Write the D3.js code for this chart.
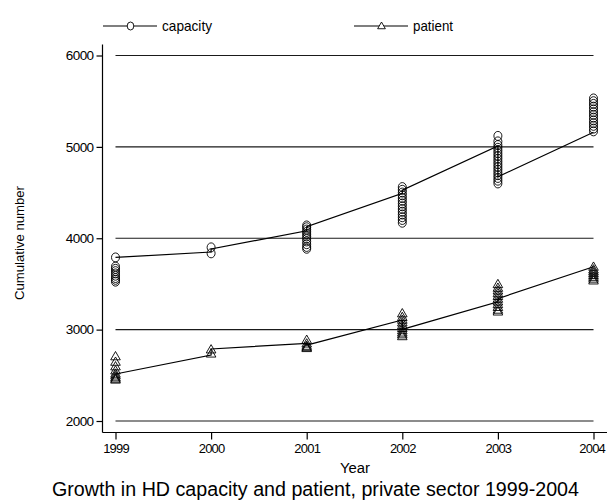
<!DOCTYPE html>
<html><head><meta charset="utf-8">
<script src="https://cdn.jsdelivr.net/npm/d3@7"></script>
<style>html,body{margin:0;padding:0;background:#fff;}svg{display:block;font-family:"Liberation Sans",Arial,sans-serif;}</style>
</head><body>
<svg id="c" width="607" height="502"></svg>
<script>
const years = [1999, 2000, 2001, 2002, 2003, 2004];
const yTicks = [2000, 3000, 4000, 5000, 6000];
const seriesNames = ["capacity", "patient"];
const capacityPoints = {
  1999: [3790, 3690, 3665, 3640, 3615, 3590, 3565, 3545, 3525],
  2000: [3900, 3835],
  2001: [4140, 4120, 4095, 4070, 4045, 4020, 3995, 3965, 3935, 3905, 3885],
  2002: [4560, 4530, 4500, 4470, 4440, 4410, 4380, 4350, 4320, 4290, 4260, 4230, 4200, 4170],
  2003: [5120, 5060, 5020, 4990, 4960, 4930, 4900, 4870, 4840, 4810, 4780, 4750, 4720, 4690, 4660, 4630, 4600],
  2004: [5530, 5500, 5470, 5440, 5410, 5380, 5350, 5320, 5290, 5260, 5230, 5200, 5170]
};
const patientPoints = {
  1999: [2700, 2640, 2590, 2545, 2510, 2490, 2470, 2455, 2445],
  2000: [2775, 2730],
  2001: [2880, 2840, 2815, 2800, 2790],
  2002: [3170, 3130, 3100, 3070, 3040, 3010, 2985, 2960, 2940, 2920],
  2003: [3490, 3450, 3420, 3390, 3360, 3330, 3300, 3270, 3240, 3210, 3190],
  2004: [3680, 3650, 3630, 3610, 3590, 3570, 3550, 3530]
};
const capacityLine = [[1999,3790],[2000,3849],[2000,3882],[2001,4082],[2001,4126],[2002,4491],[2002,4527],[2003,5010],[2003,4673],[2004,5160]];
const patientLine = [[1999,2514],[2000,2722],[2000,2788],[2001,2850],[2001,2830],[2002,3105],[2002,3003],[2003,3305],[2003,3340],[2004,3688]];

const svg = d3.select("#c");
const x = d3.scaleLinear().domain([1999, 2004]).range([115.5, 593.5]);
const y = d3.scaleLinear().domain([2000, 6000]).range([421, 55.5]);
const axX = 102.5, axY = 432.5;
const FONT = "Liberation Sans, Arial, sans-serif";

// gridlines
svg.append("g").selectAll("line").data(yTicks).join("line")
  .attr("x1", x(1999)).attr("x2", x(2004))
  .attr("y1", d => y(d)).attr("y2", d => y(d))
  .attr("stroke", "#1a1a1a").attr("stroke-width", 1.2);

// axis lines
svg.append("line").attr("x1", axX).attr("x2", axX).attr("y1", y(6120)).attr("y2", axY).attr("stroke", "#000").attr("stroke-width", 1.2);
svg.append("line").attr("x1", axX).attr("x2", 607).attr("y1", axY).attr("y2", axY).attr("stroke", "#000").attr("stroke-width", 1.2);

// y axis
const gy = svg.append("g").attr("transform", `translate(${axX},0)`)
  .call(d3.axisLeft(y).tickValues(yTicks).tickSize(6).tickPadding(3).tickFormat(d3.format("d")));
gy.select(".domain").remove();
gy.selectAll("line").attr("stroke-width", 1.2);
gy.selectAll("text").attr("font-size", 13.5).attr("fill", "#000").attr("font-family", FONT)
  .attr("letter-spacing", -0.6);

// x axis
const gx = svg.append("g").attr("transform", `translate(0,${axY})`)
  .call(d3.axisBottom(x).tickValues(years).tickSize(7).tickPadding(4).tickFormat(d3.format("d")));
gx.select(".domain").remove();
gx.selectAll("line").attr("stroke-width", 1.2);
gx.selectAll("text").attr("font-size", 13).attr("fill", "#000").attr("font-family", FONT)
  .attr("letter-spacing", -0.8);
gx.selectAll("text").filter(d => d === 2004).attr("text-anchor", "end").attr("x", 11);

// lines
const lineGen = d3.line().x(d => x(d[0])).y(d => y(d[1]));
svg.append("path").attr("d", lineGen(capacityLine)).attr("fill", "none").attr("stroke", "#000").attr("stroke-width", 1.2);
svg.append("path").attr("d", lineGen(patientLine)).attr("fill", "none").attr("stroke", "#000").attr("stroke-width", 1.2);

// markers
const flat = obj => years.flatMap(yr => obj[yr].map(v => [yr, v]));
svg.append("g").selectAll("ellipse").data(flat(capacityPoints)).join("ellipse")
  .attr("cx", d => x(d[0])).attr("cy", d => y(d[1])).attr("rx", 4).attr("ry", 4.5)
  .attr("fill", "none").attr("stroke", "#000").attr("stroke-width", 0.9);
const tri = d3.symbol().type(d3.symbolTriangle).size(40);
svg.append("g").selectAll("path").data(flat(patientPoints)).join("path")
  .attr("d", tri).attr("transform", d => `translate(${x(d[0])},${y(d[1])})`)
  .attr("fill", "none").attr("stroke", "#000").attr("stroke-width", 0.9);

// legend
const leg = svg.append("g");
leg.append("line").attr("x1", 103).attr("x2", 157).attr("y1", 26).attr("y2", 26).attr("stroke", "#000").attr("stroke-width", 1.2);
leg.append("ellipse").attr("cx", 130.5).attr("cy", 26).attr("rx", 3.3).attr("ry", 4).attr("fill", "#fff").attr("stroke", "#000").attr("stroke-width", 0.9);
leg.append("text").attr("x", 162).attr("y", 31).attr("font-size", 14.5).attr("textLength", 50).attr("lengthAdjust", "spacingAndGlyphs").text(seriesNames[0]);
leg.append("line").attr("x1", 354).attr("x2", 408).attr("y1", 26).attr("y2", 26).attr("stroke", "#000").attr("stroke-width", 1.2);
leg.append("path").attr("d", d3.symbol().type(d3.symbolTriangle).size(26)()).attr("transform", "translate(381.5,26.5)").attr("fill", "#fff").attr("stroke", "#000").attr("stroke-width", 0.9);
leg.append("text").attr("x", 413).attr("y", 31).attr("font-size", 14.5).attr("textLength", 40).attr("lengthAdjust", "spacingAndGlyphs").text(seriesNames[1]);

// axis titles
svg.append("text").attr("transform", "translate(24,243) rotate(-90)").attr("text-anchor", "middle")
  .attr("font-size", 13).attr("textLength", 114).attr("lengthAdjust", "spacingAndGlyphs").text("Cumulative number");
svg.append("text").attr("x", 355).attr("y", 473).attr("text-anchor", "middle")
  .attr("font-size", 14).attr("textLength", 30).attr("lengthAdjust", "spacingAndGlyphs").text("Year");
svg.append("text").attr("x", 52).attr("y", 496).attr("font-size", 20)
  .attr("textLength", 527).attr("lengthAdjust", "spacingAndGlyphs")
  .text("Growth in HD capacity and patient, private sector 1999-2004");
</script>
</body></html>
